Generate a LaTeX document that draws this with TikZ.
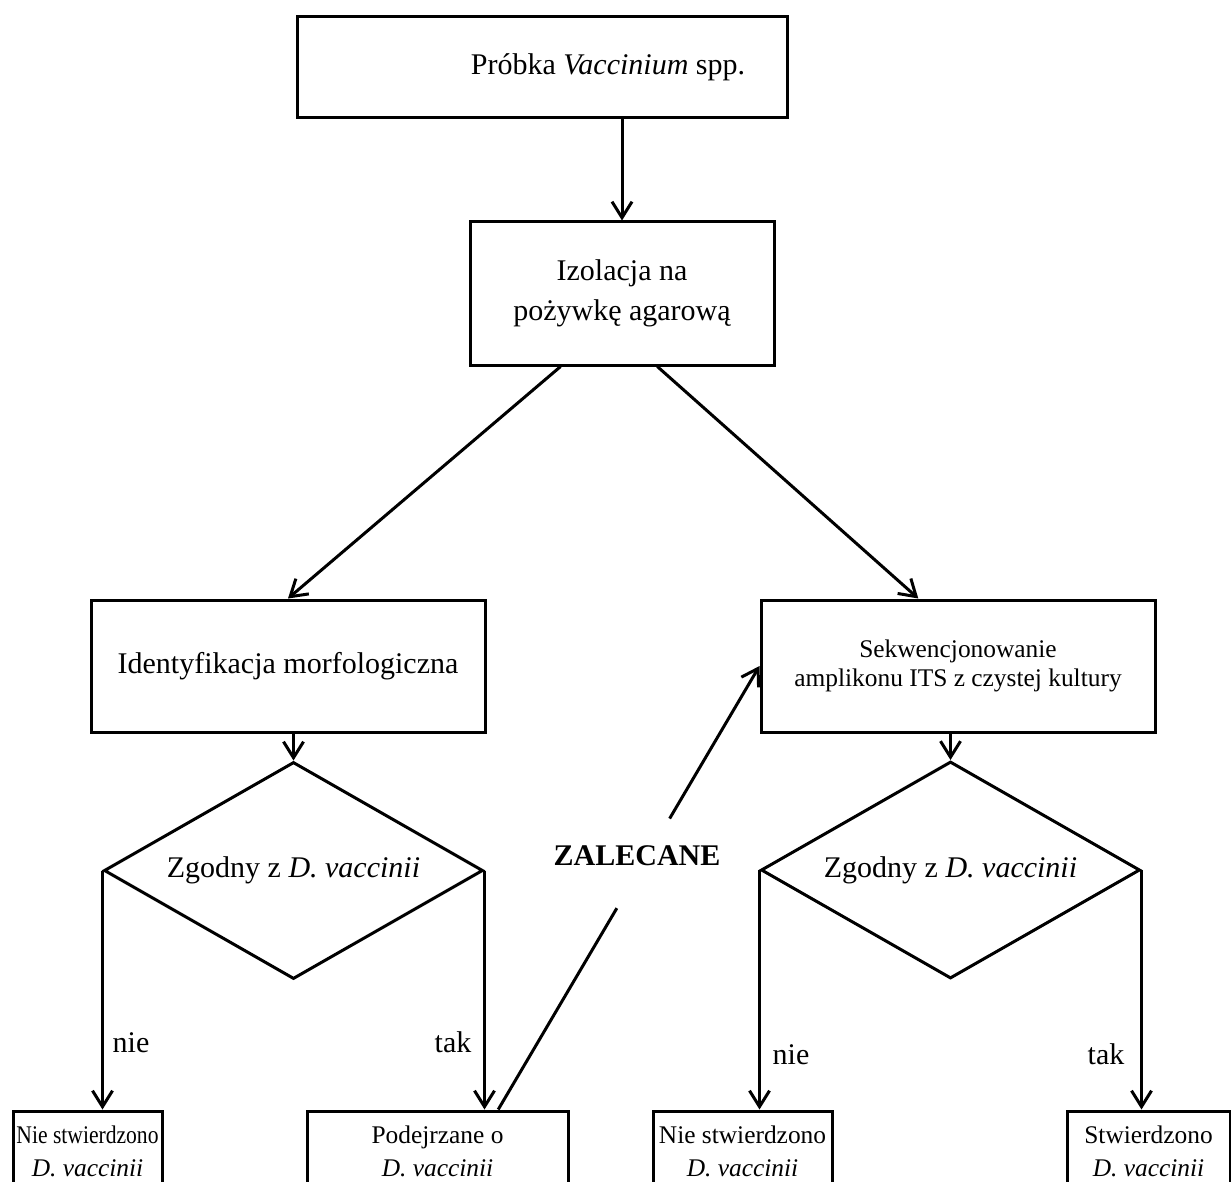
\documentclass[tikz,border=0pt]{standalone}
\usepackage{fontspec}
\setmainfont{Liberation Serif}
\usetikzlibrary{shapes.geometric,arrows.meta,calc}

\begin{document}
\begin{tikzpicture}[x=0.5pt,y=-0.5pt]

  \tikzset{main node/.style={rectangle, draw, line width=1.5pt,
  		text centered, align=center, inner sep=0pt}, }
  \tikzset{main big/.style={font=\fontsize{15}{20}\selectfont}, }
  \tikzset{main small/.style={font=\fontsize{12.7}{14.5}\selectfont}, }
  \tikzset{main end/.style={font=\fontsize{12.7}{16.5}\selectfont, minimum height=40pt}, }
  \tikzset{main test/.style={diamond, draw, line width=1.5pt, aspect=2, inner sep=0pt,
  		minimum width=189.5pt, minimum height=108.5pt, font=\fontsize{15}{18}\selectfont}, }
  \tikzset{linea/.style={line width=1.5pt, -{Straight Barb[length=8pt,width=10pt]}}, }
  \useasboundingbox (0,0) rectangle (1231,1182);
\node[main node, main big, minimum width=245pt, minimum height=50.5pt] (1) at (542,67.5) {\hspace*{66pt}Próbka \textit{Vaccinium} spp.};
\node[main node, main big, minimum width=152pt, minimum height=71.5pt] (2) at (622,293.5) {Izolacja na\\pożywkę agarową};
\node[main node, main big, minimum width=197pt, minimum height=66pt] (3) at (288,666) {Identyfikacja morfologiczna};
\node[main node, main small, minimum width=197pt, minimum height=66pt] (4) at (958,666) {Sekwencjonowanie\\amplikonu ITS z czystej kultury};
\node[main test] (5) at (293.5,870.5) {Zgodny z \textit{D. vaccinii}};
\node[main test] (6) at (950.5,870) {Zgodny z \textit{D. vaccinii}};

\node[main node, main end, minimum width=74.5pt] (7) at (87.5,1151) {\scalebox{0.85}[1]{Nie stwierdzono}\\\textit{D. vaccinii}};
\node[main node, main end, minimum width=130.5pt] (8) at (437.5,1151) {Podejrzane o\\\textit{D. vaccinii}};
\node[main node, main end, minimum width=89.5pt] (9) at (742.5,1151) {Nie stwierdzono\\\textit{D. vaccinii}};
\node[main node, main end, minimum width=81.5pt] (10) at (1148.5,1151) {Stwierdzono\\\textit{D. vaccinii}};
\node[font=\bfseries\fontsize{15}{18}\selectfont] (11) at (637,856) {ZALECANE};

\draw[linea] (1.south -| 2.north) -- (2.north);
\draw[linea] ($(2.south west)!0.3!(2.south east)$) -- (3.north);
\draw[linea] ($(2.south west)!0.615!(2.south east)$) -- ($(4.north west)!0.4!(4.north east)$);
\draw[linea] (3.south -| 5.north) -- (5.north);
\draw[linea] (4.south -| 6.north) -- (6.north);
\draw[linea] (5.west) -- (5.west |- 7.north) node[main big, pos=0.72, right=1pt] {nie};
\draw[linea] (5.east) -- (5.east |- 8.north) node[main big, pos=0.72, left=2.5pt] {tak};
\draw[linea] (6.west) -- (6.west |- 9.north) node[main big, pos=0.77, right=2.5pt] {nie};
\draw[linea] (6.east) -- (6.east |- 10.north) node[main big, pos=0.77, left=4.5pt] {tak};
%% recommended path, broken round the label
\coordinate (12) at ($(8.north west)!0.73!(8.north east)$);
\draw[line width=1.5pt] (12) -- ($(12)!0.454!(4.west)$);
\draw[linea] ($(12)!0.656!(4.west)$) -- (4.west);
%%
\end{tikzpicture}
\end{document}
